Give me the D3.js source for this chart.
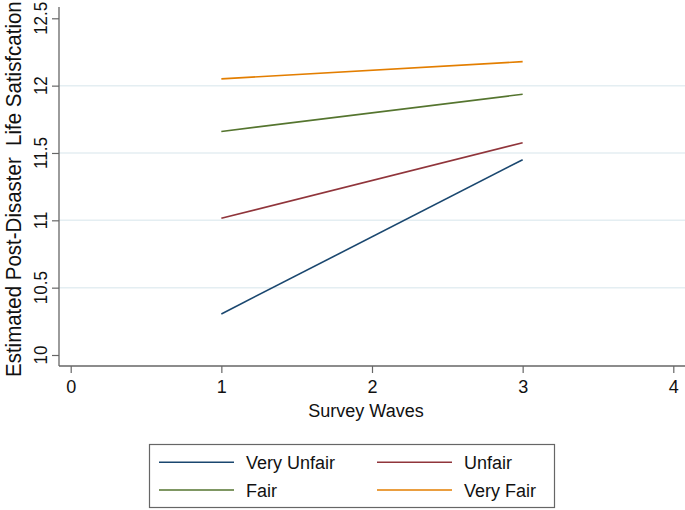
<!DOCTYPE html>
<html><head><meta charset="utf-8">
<script src="https://cdn.jsdelivr.net/npm/d3@7"></script>
<style>body{margin:0;background:#fff}svg{display:block}text{font-family:"Liberation Sans",Arial,Helvetica,sans-serif;fill:#111}</style>
</head><body>
<script>
const waves = [1, 3];
const seriesNames = ["Very Unfair", "Unfair", "Fair", "Very Fair"];
const veryUnfair = [10.305, 11.45];
const unfair = [11.015, 11.576];
const fair = [11.66, 11.936];
const veryFair = [12.05, 12.178];
const xTicks = [0, 1, 2, 3, 4];
const yTicks = [10, 10.5, 11, 11.5, 12, 12.5];
const gridTicks = [10.5, 11, 11.5, 12];
const colors = ["#1a476f", "#90353b", "#55752f", "#e37e00"];
const values = [veryUnfair, unfair, fair, veryFair];

(function () {
const W = 685, H = 510;
const svg = d3.select("body").append("svg").attr("width", W).attr("height", H);
const x = d3.scaleLinear().domain([0, 4]).range([70.7, 673.3]);
const y = d3.scaleLinear().domain([10, 12.5]).range([355, 18.3]);
const pLeft = 59, pRight = 685, pTop = 7, pBottom = 366;
const axisColor = "#666";

// gridlines
svg.append("g").selectAll("line").data(gridTicks).join("line")
  .attr("x1", pLeft).attr("x2", pRight)
  .attr("y1", d => y(d)).attr("y2", d => y(d))
  .attr("stroke", "#e4eef2").attr("stroke-width", 1.5);

// y axis
const gy = svg.append("g").attr("transform", `translate(${pLeft},0)`)
  .call(d3.axisLeft(y).tickValues(yTicks).tickSize(7).tickFormat(d3.format("")));
gy.select(".domain").remove();
gy.selectAll(".tick line").attr("stroke", axisColor).attr("stroke-width", 1.2);
gy.selectAll(".tick text").remove();
svg.append("line").attr("x1", pLeft).attr("x2", pLeft).attr("y1", pTop).attr("y2", pBottom)
  .attr("stroke", axisColor).attr("stroke-width", 1.3);
svg.append("g").selectAll("text").data(yTicks).join("text")
  .attr("transform", d => `translate(46.5,${y(d)}) rotate(-90) scale(1,1.1)`)
  .attr("text-anchor", "middle").attr("font-size", 17).text(d => d);

// x axis
const gx = svg.append("g").attr("transform", `translate(0,${pBottom})`)
  .call(d3.axisBottom(x).tickValues(xTicks).tickSize(7).tickFormat(d3.format("d")));
gx.select(".domain").remove();
gx.selectAll(".tick line").attr("stroke", axisColor).attr("stroke-width", 1.2);
gx.selectAll(".tick text").attr("font-size", 18).attr("y", 14).attr("dy", "0.71em")
  .style("font-family", '"Liberation Sans",Arial,sans-serif').attr("fill", "#111");
svg.append("line").attr("x1", pLeft).attr("x2", pRight).attr("y1", pBottom).attr("y2", pBottom)
  .attr("stroke", axisColor).attr("stroke-width", 1.3);

// titles
svg.append("text").attr("x", 366).attr("y", 417).attr("text-anchor", "middle")
  .attr("font-size", 18).text("Survey Waves");
svg.append("text").attr("transform", "translate(20.5,377) rotate(-90) scale(1,1.12)")
  .attr("text-anchor", "start").attr("font-size", 20.5)
  .text("Estimated Post-Disaster\u00a0 Life Satisfcation");

// lines
const line = d3.line().x((d, i) => x(waves[i])).y(d => y(d));
svg.append("g").selectAll("path").data(values).join("path")
  .attr("d", d => line(d)).attr("fill", "none")
  .attr("stroke", (d, i) => colors[i]).attr("stroke-width", 1.6);

// legend
const lg = svg.append("g");
lg.append("rect").attr("x", 149.5).attr("y", 444.5).attr("width", 405).attr("height", 63)
  .attr("fill", "#fff").attr("stroke", "#666").attr("stroke-width", 1.2);
const pos = [[159, 462.3], [377, 462.3], [159, 490], [377, 490]];
seriesNames.forEach((n, i) => {
  const [px, py] = pos[i];
  lg.append("line").attr("x1", px).attr("x2", px + 75).attr("y1", py).attr("y2", py)
    .attr("stroke", colors[i]).attr("stroke-width", 1.6);
  lg.append("text").attr("x", px + 87).attr("y", py + 6.5).attr("font-size", 18).text(n);
});
})();
</script>
</body></html>
